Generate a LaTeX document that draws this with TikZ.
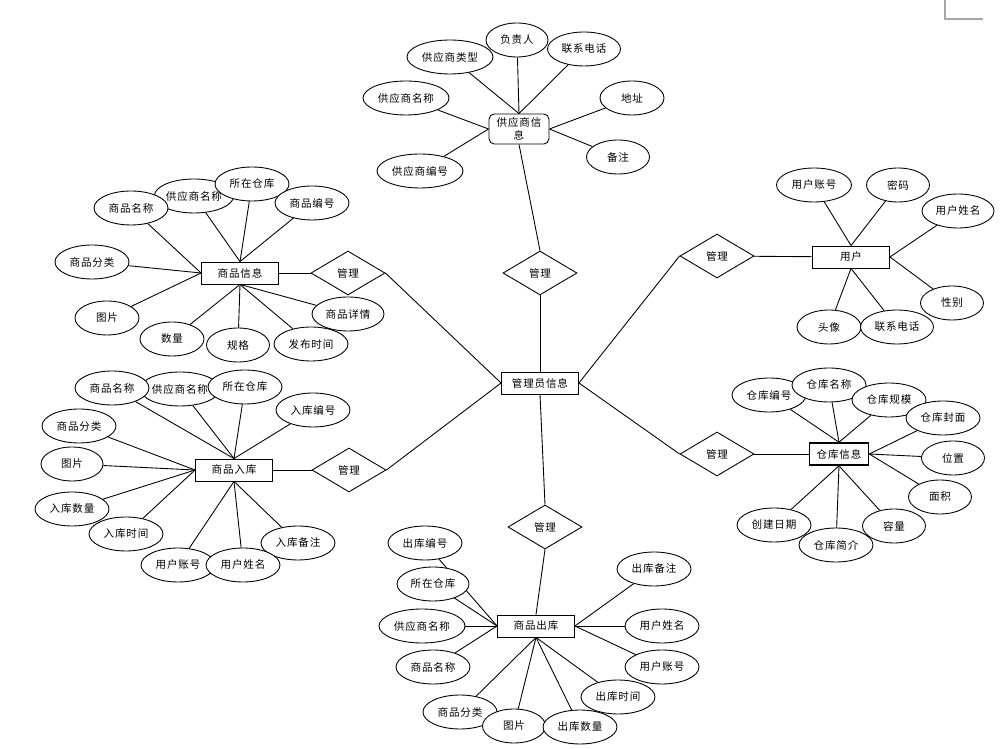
\documentclass[tikz,border=0pt]{standalone}
\usepackage{fontspec}
\setmainfont{Noto Sans CJK SC}[LetterSpace=8]
\usetikzlibrary{shapes.geometric}

\tikzset{
	entity/.style={draw, rectangle, inner sep=0pt, minimum width=1.54cm, minimum height=0.44cm},
	attr/.style={draw, ellipse, fill=white, inner sep=0pt, minimum height=0.68cm},
	relation/.style={draw, diamond, inner sep=0pt, minimum width=1.48cm, minimum height=0.88cm}
}

\begin{document}
\begin{tikzpicture}[x=0.02cm, y=-0.02cm, line width=0.5pt, font=\fontsize{6}{7}\selectfont]

	\useasboundingbox (0,0) rectangle (1008,749);

	% \drawattributes#entity#{label/x/y/width/anchor, ...}
	\def\drawattributes#1#2{
		\foreach \t/\x/\y/\w/\a [count=\i] in {#2} {
			\node[attr, minimum width=\w*0.02cm] (#1\i) at (\x,\y) {\t};
			\draw (#1\i) -- (#1.\a);
		}
	}

	% page corner
	\draw[line width=1pt, color=gray!70] (945,0) -- (945,19) -- (983,19);

	% entities
	\node[entity] (admin) at (540,383) {管理员信息};
	\node[entity, rounded corners=3pt, minimum width=1.2cm, minimum height=0.6cm, align=center] (supplier) at (519,129) {供应商信\\息};
	\node[entity] (goods) at (240,273) {商品信息};
	\node[entity] (stockin) at (234,470) {商品入库};
	\node[entity] (stockout) at (536,626) {商品出库};
	\node[entity, minimum width=1.18cm, line width=0.9pt] (store) at (839,454) {仓库信息};
	\node[entity] (user) at (851,257) {用户};

	% relations
	\node[relation] (msupplier) at (540,273) {管理};
	\node[relation] (mgoods) at (348,273) {管理};
	\node[relation] (mstockin) at (349,470) {管理};
	\node[relation] (mstockout) at (545,527) {管理};
	\node[relation] (mstore) at (717,454) {管理};
	\node[relation] (muser) at (717,256) {管理};

	\draw (supplier.south) -- (msupplier.north);
	\draw (msupplier.south) -- (admin.north);
	\draw (goods) -- (mgoods);
	\draw (mgoods.east) -- (admin.west);
	\draw (stockin) -- (mstockin);
	\draw (mstockin.east) -- (admin.west);
	\draw (admin.south) -- (mstockout.north);
	\draw (mstockout.south) -- (stockout.north);
	\draw (admin.east) -- (muser.west);
	\draw (muser) -- (user);
	\draw (admin.east) -- (mstore.west);
	\draw (mstore) -- (store);

	% 供应商信息
	\drawattributes{supplier}{
		供应商类型/450/57/86/north,
		负责人/517/40/62/north,
		联系电话/584/49/73/north,
		供应商名称/406/98/86/west,
		供应商编号/420/171/86/west,
		地址/632/98/64/east,
		备注/618/157/63/east}

	% 商品信息
	\drawattributes{goods}{
		供应商名称/194/196/78/north,
		商品名称/131/208/74/west,
		所在仓库/252/184/74/north,
		商品编号/312/203/74/north,
		商品分类/92/262/74/west,
		图片/107/318/64/west,
		数量/172/339/64/south,
		规格/238/345/63/south,
		发布时间/311/344/74/south,
		商品详情/348/314/72/south}

	% 商品入库
	\drawattributes{stockin}{
		供应商名称/180/389/76/north,
		商品名称/112/388/74/north,
		所在仓库/245/387/74/north,
		入库编号/313/410/74/north,
		商品分类/79/426/74/west,
		图片/72/464/62/west,
		入库数量/72/509/74/west,
		入库时间/126/534/74/west,
		入库备注/298/543/74/south,
		用户账号/178/565/74/south,
		用户姓名/243/565/74/south}

	% 商品出库
	\drawattributes{stockout}{
		出库编号/425/543/74/west,
		所在仓库/433/584/72/west,
		供应商名称/422/626/86/west,
		商品名称/433/667/74/west,
		商品分类/460/712/74/south,
		图片/514/726/63/south,
		出库数量/580/727/74/south,
		出库时间/618/697/74/south,
		用户账号/662/667/74/east,
		用户姓名/662/626/74/east,
		出库备注/654/569/74/east}

	% 仓库信息
	\drawattributes{store}{
		仓库编号/769/395/74/north,
		仓库名称/829/385/74/north,
		仓库规模/889/400/74/north,
		仓库封面/943/418/74/east,
		位置/953/458/63/east,
		面积/940/497/63/east,
		容量/894/526/63/south,
		创建日期/774/525/74/south,
		仓库简介/836/545/74/south}

	% 用户
	\drawattributes{user}{
		用户账号/814/185/75/north,
		密码/898/185/63/north,
		用户姓名/958/211/72/east,
		性别/952/303/63/east,
		头像/829/327/64/south,
		联系电话/897/327/73/south}
\end{tikzpicture}
\end{document}
